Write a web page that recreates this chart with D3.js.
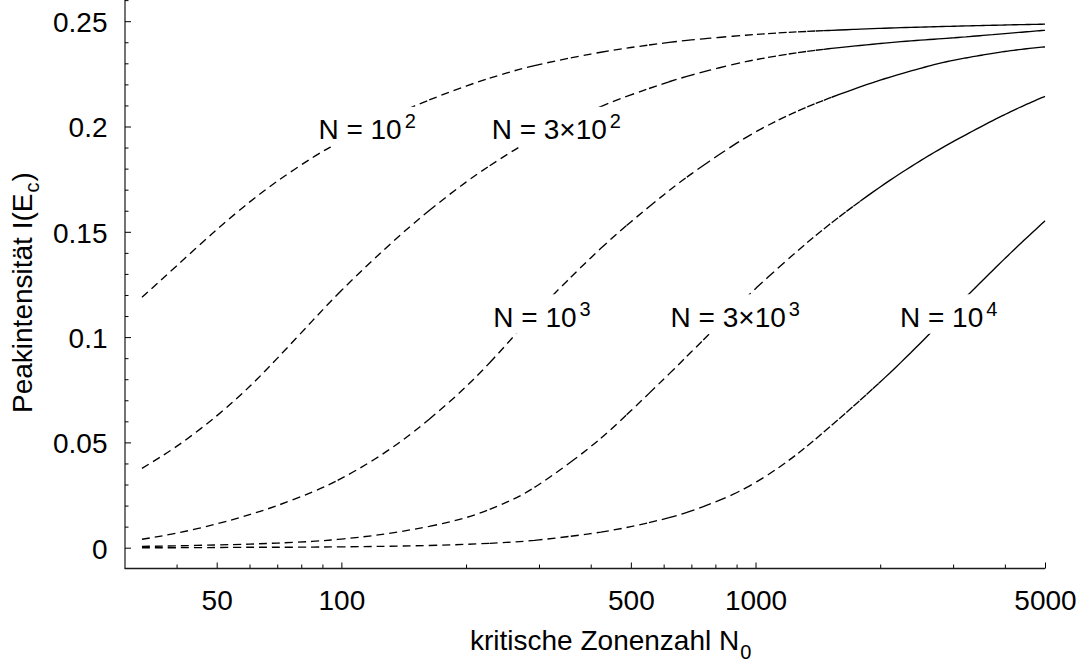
<!DOCTYPE html>
<html>
<head>
<meta charset="utf-8">
<script src="https://cdn.jsdelivr.net/npm/d3@7"></script>
<style>
  html, body { margin: 0; padding: 0; background: #fff; }
  svg { display: block; }
  text { font-family: "Liberation Sans", Arial, Helvetica, sans-serif; fill: #000; }
</style>
</head>
<body>
<svg id="chart" width="1083" height="667"></svg>
<script>
// Critical zone number N0 at which the curves are sampled
const zoneNumbers = [33, 40, 50, 60, 70, 85, 100, 120, 150, 200, 250, 300, 400, 500, 600, 700, 850,
                     1000, 1200, 1500, 2000, 2500, 3000, 4000, 5000];

// Peak intensity I(Ec) for each total zone number N
const peakN1e2 = [0.1189, 0.1338, 0.1510, 0.1641, 0.1740, 0.1851, 0.1931, 0.2010, 0.2097, 0.2192, 0.2253, 0.2294, 0.2344,
                  0.2375, 0.2396, 0.2411, 0.2426, 0.2437, 0.2447, 0.2456, 0.2466, 0.2472, 0.2476, 0.2482, 0.2486];
const peakN3e2 = [0.0377, 0.0481, 0.0626, 0.0765, 0.0899, 0.1076, 0.1221, 0.1371, 0.1542, 0.1736, 0.1864, 0.1955, 0.2074,
                  0.2150, 0.2204, 0.2244, 0.2287, 0.2317, 0.2344, 0.2369, 0.2394, 0.2410, 0.2421, 0.2441, 0.2457];
const peakN1e3 = [0.0040, 0.0069, 0.0113, 0.0157, 0.0200, 0.0264, 0.0329, 0.0419, 0.0553, 0.0765, 0.0964, 0.1132, 0.1376,
                  0.1547, 0.1675, 0.1775, 0.1889, 0.1974, 0.2053, 0.2133, 0.2220, 0.2276, 0.2314, 0.2356, 0.2378];
const peakN3e3 = [0.0006, 0.0009, 0.0013, 0.0017, 0.0022, 0.0030, 0.0041, 0.0058, 0.0088, 0.0143, 0.0215, 0.0300, 0.0480,
                  0.0650, 0.0800, 0.0930, 0.1095, 0.1230, 0.1371, 0.1531, 0.1713, 0.1837, 0.1928, 0.2057, 0.2143];
const peakN1e4 = [0.0000, 0.0000, 0.0001, 0.0002, 0.0002, 0.0003, 0.0004, 0.0006, 0.0009, 0.0016, 0.0025, 0.0037, 0.0067,
                  0.0100, 0.0136, 0.0175, 0.0239, 0.0310, 0.0413, 0.0568, 0.0787, 0.0971, 0.1129, 0.1373, 0.1552];

const seriesList = [peakN1e2, peakN3e2, peakN1e3, peakN3e3, peakN1e4];

// Curve labels: base text, superscript exponent, anchor (N0, intensity) of the baseline start
const labelBase = ["N = 10", "N = 3\u00d710", "N = 10", "N = 3\u00d710", "N = 10"];
const labelExp  = ["2", "2", "3", "3", "4"];
const labelN0   = [88, 230.6, 232.7, 623.6, 2232];
const labelI    = [0.1939, 0.1939, 0.1049, 0.1049, 0.1049];

// Axis ticks
const xMajorTicks = [50, 100, 500, 1000, 5000];
const xMinorTicks = [40, 60, 70, 80, 90, 200, 300, 400, 600, 700, 800, 900, 2000, 3000, 4000];
const yMajorTicks = [0, 0.05, 0.1, 0.15, 0.2, 0.25];
const yMinorTicks = [0.01, 0.02, 0.03, 0.04, 0.06, 0.07, 0.08, 0.09, 0.11, 0.12, 0.13, 0.14,
                     0.16, 0.17, 0.18, 0.19, 0.21, 0.22, 0.23, 0.24, 0.26];

const svg = d3.select("#chart");

const x = d3.scaleLog().domain([50, 5000]).range([216.7, 1045]);
const y = d3.scaleLinear().domain([0, 0.25]).range([547.7, 21.2]);

const axisX = 125;      // position of the vertical axis
const axisY = 568.5;    // position of the horizontal axis
const xLeft = x(30);

// ---- curves ----
const line = d3.line()
  .x(d => x(d[0]))
  .y(d => y(d[1]))
  .curve(d3.curveNatural);

const curveG = svg.append("g");

// Dash pattern that restarts every `step` units of N0, so the curve turns
// solid where consecutive pieces become shorter than one dash.
function restartingDash(node, n0First, n0Last, step, dash, gap) {
  const total = node.getTotalLength();
  const table = [];
  const samples = Math.ceil(total * 2);
  for (let i = 0; i <= samples; i++) {
    const l = total * i / samples;
    table.push([node.getPointAtLength(l).x, l]);
  }
  const lengthAt = px => {
    let lo = 0, hi = table.length - 1;
    while (hi - lo > 1) {
      const mid = (lo + hi) >> 1;
      if (table[mid][0] < px) lo = mid; else hi = mid;
    }
    const a = table[lo], b = table[hi];
    const t = b[0] === a[0] ? 0 : (px - a[0]) / (b[0] - a[0]);
    return a[1] + t * (b[1] - a[1]);
  };
  const bounds = [];
  for (let n = n0First; n < n0Last; n += step) bounds.push(lengthAt(x(n)));
  bounds.push(total);
  const arr = [];
  for (let i = 0; i < bounds.length - 1; i++) {
    let L = bounds[i + 1] - bounds[i];
    while (L > dash + gap) { arr.push(dash, gap); L -= dash + gap; }
    if (L <= dash) arr.push(L, 0);
    else arr.push(dash, L - dash);
  }
  return arr.map(v => v.toFixed(2)).join(" ");
}

seriesList.forEach(vals => {
  const pts = zoneNumbers.map((n, i) => [n, vals[i]]);
  const path = curveG.append("path")
    .datum(pts)
    .attr("fill", "none")
    .attr("stroke", "#000")
    .attr("stroke-width", 1.35)
    .attr("d", line);
  path.attr("stroke-dasharray",
    restartingDash(path.node(), zoneNumbers[0], zoneNumbers[zoneNumbers.length - 1], 65, 8, 5));
});

// ---- curve labels with white backing ----
const labelG = svg.append("g");
labelBase.forEach((base, i) => {
  const g = labelG.append("g");
  const bx = x(labelN0[i]);
  const by = y(labelI[i]);
  const rect = g.append("rect").attr("fill", "#fff");
  const t = g.append("text")
    .attr("x", bx).attr("y", by)
    .attr("font-size", 28);
  t.append("tspan").text(base);
  t.append("tspan").attr("dx", 3).attr("dy", -11).attr("font-size", 20).text(labelExp[i]);
  const bb = t.node().getBBox();
  rect.attr("x", bb.x - 4).attr("width", bb.width + 8)
      .attr("y", by - 32.5).attr("height", 39.5);
});

// ---- axes ----
const axisG = svg.append("g");

// bottom axis: major ticks with labels, inward ticks
const xAxisMajor = d3.axisBottom(x)
  .tickValues(xMajorTicks)
  .tickSize(-6)
  .tickPadding(0)
  .tickFormat(d3.format("d"));
const gx = axisG.append("g").attr("transform", `translate(0,${axisY})`).call(xAxisMajor);
gx.select(".domain").remove();
gx.selectAll(".tick line").attr("stroke", "#000").attr("stroke-width", 1);
gx.selectAll(".tick text")
  .attr("y", 41.5).attr("dy", null)
  .attr("font-size", 28)
  .attr("font-family", "Liberation Sans, Arial, sans-serif");

const xAxisMinor = d3.axisBottom(x).tickValues(xMinorTicks).tickSize(-4).tickFormat("");
const gxm = axisG.append("g").attr("transform", `translate(0,${axisY})`).call(xAxisMinor);
gxm.select(".domain").remove();
gxm.selectAll(".tick line").attr("stroke", "#000").attr("stroke-width", 1);

// left axis
const yAxisMajor = d3.axisLeft(y)
  .tickValues(yMajorTicks)
  .tickSize(-6)
  .tickPadding(0)
  .tickFormat(d => d === 0 ? "0" : String(+d.toFixed(2)));
const gy = axisG.append("g").attr("transform", `translate(${axisX},0)`).call(yAxisMajor);
gy.select(".domain").remove();
gy.selectAll(".tick line").attr("stroke", "#000").attr("stroke-width", 1);
gy.selectAll(".tick text")
  .attr("x", -17.5).attr("dy", 10.3)
  .attr("font-size", 28)
  .attr("font-family", "Liberation Sans, Arial, sans-serif");

const yAxisMinor = d3.axisLeft(y).tickValues(yMinorTicks).tickSize(-3.5).tickFormat("");
const gym = axisG.append("g").attr("transform", `translate(${axisX},0)`).call(yAxisMinor);
gym.select(".domain").remove();
gym.selectAll(".tick line").attr("stroke", "#000").attr("stroke-width", 1);

// axis lines
axisG.append("line")
  .attr("x1", axisX).attr("x2", axisX)
  .attr("y1", 0).attr("y2", axisY + 0.5)
  .attr("stroke", "#000").attr("stroke-width", 1.1);
axisG.append("line")
  .attr("x1", xLeft).attr("x2", x(5000))
  .attr("y1", axisY).attr("y2", axisY)
  .attr("stroke", "#1a1a1a").attr("stroke-width", 1.3);

// ---- axis titles ----
const xTitle = svg.append("text")
  .attr("x", 470).attr("y", 650)
  .attr("font-size", 28);
xTitle.append("tspan").text("kritische Zonenzahl N");
xTitle.append("tspan").attr("dx", 1).attr("dy", 9).attr("font-size", 20).text("0");

const yTitle = svg.append("text")
  .attr("transform", "translate(31.7,413) rotate(-90)")
  .attr("font-size", 28);
yTitle.append("tspan").text("Peakintensität I(E");
yTitle.append("tspan").attr("dx", 1).attr("dy", 7).attr("font-size", 20).text("c");
yTitle.append("tspan").attr("dx", 1).attr("dy", -7).text(")");
</script>
</body>
</html>
